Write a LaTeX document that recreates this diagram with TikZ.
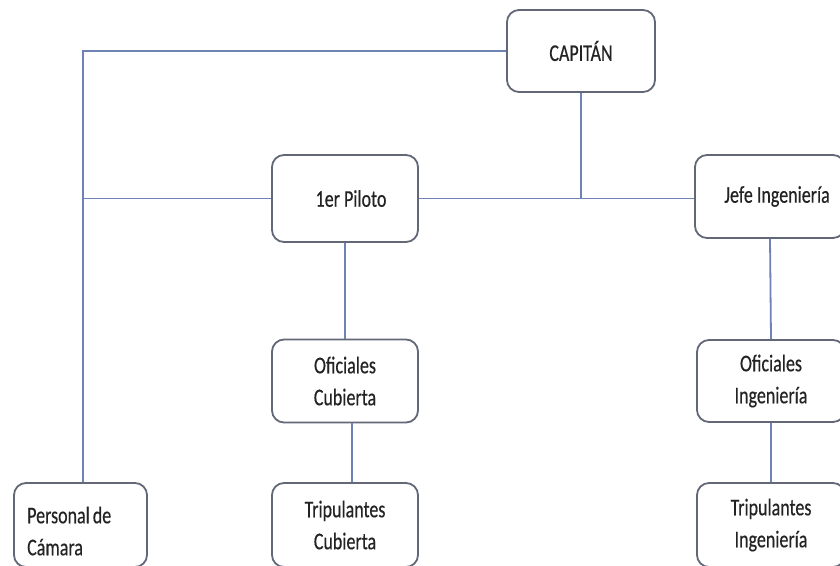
\documentclass[tikz,border=0pt]{standalone}
\usepackage{fontspec}
\setmainfont{Carlito}
\newfontfamily\boxfont{Carlito}[FakeBold=0.4,FakeStretch=0.75]
\begin{document}
\begin{tikzpicture}[x=1pt,y=-1pt,
  box/.style={draw=boxgray, line width=1.8pt, rounded corners=12pt, fill=white,
    font=\boxfont\fontsize{24}{32}\selectfont, text=textgray, align=center, inner sep=0pt},
  link/.style={draw=linkblue, line width=1.8pt}]
\definecolor{boxgray}{RGB}{98,104,120}
\definecolor{linkblue}{RGB}{110,130,180}
\definecolor{textgray}{RGB}{35,35,35}
\useasboundingbox (0,0) rectangle (840,565);
\fill[white] (0,0) rectangle (840,565);
\clip (0,0) rectangle (840,565);

% boxes
\node[box, minimum width=148pt, minimum height=82pt] (cap) at (581,51) {CAPITÁN};
\node[box, minimum width=146pt, minimum height=87pt] (pil) at (345,198.5) {\hspace*{12pt}1er Piloto};
\node[box, minimum width=150pt, minimum height=83pt] (jef) at (770,196.5) {\hspace*{14pt}Jefe Ingeniería};
\node[box, minimum width=146pt, minimum height=83pt] (ofc) at (345,381) {Oficiales\\Cubierta};
\node[box, minimum width=146pt, minimum height=84pt] (tc) at (345,525) {Tripulantes\\Cubierta};
\node[box, minimum width=148pt, minimum height=82pt] (ofi) at (771,381) {Oficiales\\Ingeniería};
\node[box, minimum width=148pt, minimum height=84pt] (ti) at (771,525) {Tripulantes\\Ingeniería};
\node[box, minimum width=133pt, minimum height=84pt] (per) at (80.5,525) {};
\node[font=\boxfont\fontsize{24}{32}\selectfont, text=textgray, align=left,
  anchor=west, inner sep=0pt] (pert) at (27,531) {Personal\hspace{3pt}de\\Cámara};

% connectors
\coordinate (lc) at (83,51);
\draw[link] (cap.west) -- (lc) -- (lc |- per.north);
\draw[link] (pil.west) -- (lc |- pil.west);
\draw[link] (pil.east) -- (pil.east -| jef.west);
\draw[link] (cap.south) -- (cap.south |- pil.east);
\draw[link] (pil.south) -- (ofc.north);
\draw[link] ([xshift=7pt]ofc.south) -- ([xshift=7pt]tc.north);
\draw[link] (jef.south) -- (ofi.north);
\draw[link] (ofi.south) -- (ti.north);
\end{tikzpicture}
\end{document}
